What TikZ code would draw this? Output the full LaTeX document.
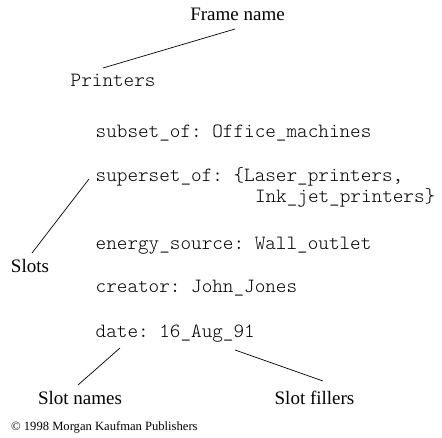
\documentclass[tikz,border=0pt]{standalone}
\usepackage{fontspec}
\setmainfont{Liberation Serif}
\setmonofont{Latin Modern Mono Light}
\begin{document}
\begin{tikzpicture}[x=1pt,y=-1pt,
  lbl/.style={inner sep=0pt, font=\fontsize{19}{22}\selectfont, anchor=base},
  code/.style={inner sep=0pt, font=\ttfamily\fontsize{20.2}{22}\selectfont, anchor=base west},
  ptr/.style={line width=0.7pt}]
\useasboundingbox (0,0) rectangle (442,438);
% labels
\node[lbl] (frame) at (237.5,21) {Frame name};
\node[lbl] (slots) at (30,273) {Slots};
\node[lbl] (names) at (80,404) {Slot names};
\node[lbl] (fillers) at (314.5,404) {Slot fillers};
\node[inner sep=0pt, anchor=base west, font=\fontsize{12.6}{14}\selectfont] (copy) at (11,431) {© 1998 Morgan Kaufman Publishers};
% frame
\node[code] (printers) at (70.5,87) {Printers};
\node[code] (subset) at (95.5,138) {subset\_of: Office\_machines};
\node[code] (superset) at (95.5,182) {superset\_of: \{Laser\_printers,};
\node[code] (inkjet) at (254.8,203) {Ink\_jet\_printers\}};
\node[code] (energy) at (95.5,250) {energy\_source: Wall\_outlet};
\node[code] (creator) at (95.5,293) {creator: John\_Jones};
\node[code] (date) at (95.5,338) {date: 16\_Aug\_91};
% pointer ends
\coordinate (fnA) at (235,29);
\coordinate (fnB) at (103,68);
\coordinate (slA) at (89,179);
\coordinate (slB) at (32,253);
\coordinate (snA) at (120,348);
\coordinate (snB) at (78,385);
\coordinate (sfA) at (235,350);
\coordinate (sfB) at (323,381);
\draw[ptr] (fnA) -- (fnB);
\draw[ptr] (slA) -- (slB);
\draw[ptr] (snA) -- (snB);
\draw[ptr] (sfA) -- (sfB);
\end{tikzpicture}
\end{document}
